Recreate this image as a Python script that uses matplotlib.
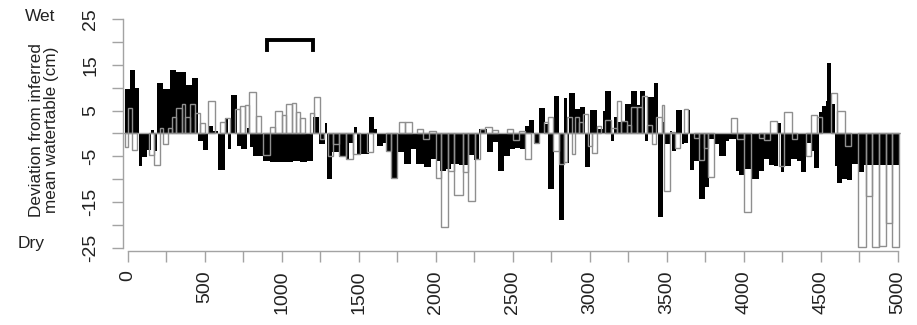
import numpy as np
import matplotlib
matplotlib.use('Agg')
import matplotlib.pyplot as plt

plt.rcParams['font.family'] = ['Liberation Sans', 'DejaVu Sans']

# black series: left edge of each bar (years) and deviation (cm)
black_start = [
    -20, 10, 45, 72, 90, 121, 150, 170, 190, 229, 272, 315, 348, 380, 413,
    456, 488, 521, 553, 586, 629, 650, 668, 705, 737, 770, 790, 813, 878,
    920, 1000, 1070, 1117, 1160, 1200, 1243, 1280, 1295, 1325, 1370,
    1415, 1437, 1469, 1490, 1512, 1562, 1599, 1620, 1653, 1685, 1707, 1750,
    1793, 1837, 1870, 1923, 1966, 2000, 2027, 2064, 2097,
    2148, 2213, 2245, 2282, 2332, 2371, 2403, 2440, 2483, 2516, 2548, 2581,
    2603, 2635, 2671, 2706, 2728, 2765, 2797, 2830, 2850, 2862,
    2903, 2935, 2967, 3000, 3043, 3085, 3100, 3140, 3155, 3185, 3227, 3266,
    3303, 3324, 3357, 3378, 3417, 3440, 3476, 3490, 3520, 3530, 3562, 3595,
    3614, 3636, 3652, 3679, 3711, 3748, 3776, 3805, 3841, 3884, 3906, 3949,
    3971, 4003, 4047, 4101, 4133, 4166, 4198, 4220, 4240, 4263, 4306,
    4348, 4374, 4402, 4434, 4456, 4488, 4510, 4532, 4540, 4568, 4590, 4603,
    4640, 4672, 4705, 4748, 4781,
]
black_value = [
    9.7, 13.8, 10, -7.2, -5.1, -3.6, 0.8, -3.8, 11, 9.8, 13.8, 13.5, 13.5, 10.5, 12.2,
    -1.7, -3.6, 1.6, 0.5, -8, 3.4, -3.3, 8.3, -2.7, -3.3, 1.2, -3.0, -4.9, -6.0,
    -6.3, -6.3, -6.0, -6.2, -5.9, 3.5, -2.3, 2.3, -10, -4.1, -5.2,
    -5.6, -2, 1.5, -4.5, -4.5, 3.5, 1.0, -2.7, -2, -3.8, -9.8, -4.1,
    -6.7, -3.4, -6.7, -7.4, -5.6, -6, -8.1, -7.8, -6.7,
    -6.9, -4.7, -5.8, 1.0, -4.1, -1.8, -8.1, -4.9, -3.4, -3.1, -3.4, 1.7,
    3.0, -2.3, 5.5, 2.0, -12.2, 8.2, -18.9, 7.8, -6.5, 8.8,
    5.3, 5.7, -7.3, 5.2, 1.0, 5.0, 9.3, -1.6, 3.5, 2.4, 6.4, 9.3,
    6.2, 9.3, -1.6, 7.9, 11.0, -18.3, 2.5, -2.3, 0.5, -3.8, 5.2, -2.3,
    -2.0, 5.2, -7.9, -6.0, -14.3, -11.6, -1.2, -2.3, -5.0, -1.6, -1.2, -8.1,
    -9.1, -7.8, -10.0, -8.1, -5.5, -6.9, -7.0, 2.3, -8.5, -7.0, -5.6,
    -6.0, -8.5, -2.0, -3.8, -7.6, 4.6, 5.9, 7.1, 15.4, 6.4, -7.2, -10.8,
    -10.0, -10.2, -6.7, -8.5, -6.9,
]
black_end = 5005

# white (open) series
white_start = [
    -20, 0, 25, 56, 138, 168, 210, 230, 260, 283, 315, 348, 370, 402, 434,
    465, 497, 521, 564, 597, 629, 661, 694, 726, 759, 787, 830, 867, 880,
    921, 954, 997, 1029, 1062, 1090, 1117, 1150, 1183, 1207, 1248, 1270,
    1297, 1330, 1373,
    1415, 1460, 1510, 1555, 1588, 1675, 1707, 1750, 1761, 1800, 1843, 1874,
    1917, 1956, 1999, 2036, 2079, 2118, 2174, 2209, 2252, 2285, 2321, 2364,
    2403, 2462, 2498, 2537, 2581, 2620, 2635, 2668, 2700, 2728, 2758, 2797,
    2830, 2850,
    2881, 2903, 2929, 2957, 2989, 3011, 3043, 3075, 3097, 3140, 3179, 3205,
    3238, 3270, 3303, 3335, 3368, 3400, 3432, 3465, 3482, 3519, 3552, 3584,
    3614, 3640, 3679, 3711, 3744, 3770, 3809, 3913, 3956, 3999, 4047, 4101,
    4133, 4172, 4215, 4230, 4263, 4310,
    4348, 4402, 4439, 4473, 4505, 4564, 4603, 4655, 4694, 4742, 4790, 4835,
    4878, 4920, 4960,
]
white_value = [
    -2.9, 5.6, -3.6, 0, -4.7, -6.9, 1.2, -2.2, 1.2, 3.6, 5.6, 6.5, 3.6, 6.5, 4.4,
    2.2, 0, 7.1, 0, 2.5, 3.3, 0, 5.3, 6.0, 6.2, 9.0, 3.8, 0, -4.7,
    1.5, 4.9, 4.0, 6.5, 6.7, 4.7, 3.3, 0, 4.4, 7.9, -1.1, 0,
    -4.9, -2.3, -4.9,
    -5.6, -4.5, 0, -4.1, 0, -3.8, -9.8, 0, 2.4, 2.4, 0, 0.9,
    -1.1, 0.6, -9.8, -20.5, -8.1, -13.5, -8.5, -14.7, -5.6, 1.0, 1.5, 0.8,
    0, 1.0, -1.4, 0.6, -5.5, 0, -2.0, 0, 2.5, 3.5, -3.8, -6.7,
    -6.3, 3.7,
    -4.5, 3.5, 2.5, 4.2, -2.7, -4.3, 1.7, 0, 3.0, 1.3, 7.1, 2.8,
    1.8, 5.7, 5.7, 8.2, 1.8, -2.3, 3.5, 6.2, -12.5, 0.4, -3.1, 0,
    5.3, 0, -0.9, -5.7, -3.1, -9.4, 0, 3.3, -1.1, -17.2, 0, -0.9,
    -1.4, 2.8, 0, -7.0, 4.6, -1.1,
    0, -5.0, 4.0, 3.5, 0, 8.8, 4.9, -2.7, 0, -24.9, -13.6, -24.9,
    -24.5, -19.5, -24.9,
]
white_end = 5005

# bracket marking a period
bracket_start = 900
bracket_end = 1200
bracket_level = 20.5
bracket_foot = 18.3

x_ticks = list(range(0, 5001, 250))
x_labels = [str(t) if t % 500 == 0 else '' for t in x_ticks]
y_ticks = list(range(-25, 26, 5))
y_labels = [str(t) if t in (-25, -15, -5, 5, 15, 25) else '' for t in y_ticks]

axis_grey = '#a3a3a3'
text_col = '#222222'

black_start = np.array(black_start, dtype=float)
black_value = np.array(black_value)
black_width = np.diff(np.append(black_start, black_end))

white_start = np.array(white_start, dtype=float)
white_value = np.array(white_value)
white_width = np.diff(np.append(white_start, white_end))
keep = white_value != 0

fig = plt.figure(figsize=(9.17, 3.25), dpi=100)
ax = fig.add_axes([0.1342, 0.2286, 0.8483, 0.7157])

ax.bar(black_start, black_value, width=black_width, align='edge',
       color='black', linewidth=0, zorder=2)
ax.axhline(0, xmin=0.0, xmax=1.0, color=axis_grey, linewidth=1, zorder=3)
ax.bar(white_start[keep], white_value[keep], width=white_width[keep],
       align='edge', fill=False, edgecolor='#8f8f8f', linewidth=1.0, zorder=4)

ax.plot([bracket_start, bracket_start, bracket_end, bracket_end],
        [bracket_foot, bracket_level, bracket_level, bracket_foot],
        color='black', linewidth=2.8, solid_joinstyle='miter', zorder=5)

ax.set_xlim(-32, 5020)
ax.set_ylim(-25.6, 25.2)

for side in ['top', 'right']:
    ax.spines[side].set_visible(False)
ax.spines['left'].set_bounds(-25, 25)
ax.spines['bottom'].set_bounds(0, 5000)
for side in ['left', 'bottom']:
    ax.spines[side].set_color(axis_grey)
    ax.spines[side].set_linewidth(1)

ax.set_xticks(x_ticks)
ax.set_xticklabels(x_labels, rotation=90, va='top', ha='center')
ax.set_yticks(y_ticks)
ax.set_yticklabels(y_labels, rotation=90, va='center', ha='right')
ax.tick_params(axis='both', colors=axis_grey, labelcolor=text_col,
               labelsize=14, length=8, width=1)
ax.tick_params(axis='y', pad=9)
ax.tick_params(axis='x', pad=6)

fig.text(0.048, 0.60, 'Deviation from inferred\nmean watertable (cm)',
         rotation=90, ha='center', va='center', fontsize=12.3,
         color=text_col, linespacing=1.0)
fig.text(0.044, 0.95, 'Wet', ha='center', va='center', fontsize=12.5,
         color=text_col)
fig.text(0.034, 0.25, 'Dry', ha='center', va='center', fontsize=12.5,
         color=text_col)

fig.savefig('out.png', dpi=100)
plt.close(fig)
